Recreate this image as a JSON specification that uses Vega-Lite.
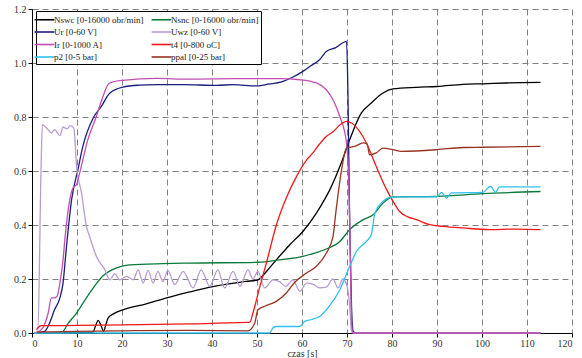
{
  "$schema": "https://vega.github.io/schema/vega-lite/v6.json",
  "autosize": {"type": "none"},
  "width": 540,
  "height": 324,
  "padding": {"left": 32, "top": 9, "right": 10, "bottom": 25},
  "background": "white",
  "config": {
    "view": {"stroke": null},
    "font": "'Liberation Serif', serif",
    "axis": {"labelFont": "'Liberation Serif', serif", "titleFont": "'Liberation Serif', serif", "labelFontSize": 10, "titleFontSize": 10, "titleFontWeight": "normal", "labelColor": "#333333", "titleColor": "#333333", "domainColor": "#000000", "tickColor": "#000000", "tickSize": 4, "gridColor": "#808080", "gridDash": [6, 4], "gridWidth": 1},
    "legend": {"labelFont": "'Liberation Serif', serif", "labelFontSize": 9, "labelColor": "#222222"}
  },
  "data": {"values": [
    {"s":"Nswc [0-16000 obr/min]","x":1,"y":0},{"s":"Nswc [0-16000 obr/min]","x":13.5,"y":0.002},{"s":"Nswc [0-16000 obr/min]","x":14.2,"y":0.03},{"s":"Nswc [0-16000 obr/min]","x":14.7,"y":0.047},{"s":"Nswc [0-16000 obr/min]","x":15.3,"y":0.03},{"s":"Nswc [0-16000 obr/min]","x":15.9,"y":0.006},{"s":"Nswc [0-16000 obr/min]","x":16.4,"y":0.03},{"s":"Nswc [0-16000 obr/min]","x":16.9,"y":0.055},{"s":"Nswc [0-16000 obr/min]","x":18,"y":0.07},{"s":"Nswc [0-16000 obr/min]","x":20.2,"y":0.086},{"s":"Nswc [0-16000 obr/min]","x":25.4,"y":0.108},{"s":"Nswc [0-16000 obr/min]","x":30.6,"y":0.133},{"s":"Nswc [0-16000 obr/min]","x":35,"y":0.152},{"s":"Nswc [0-16000 obr/min]","x":40.2,"y":0.172},{"s":"Nswc [0-16000 obr/min]","x":45,"y":0.185},{"s":"Nswc [0-16000 obr/min]","x":47.6,"y":0.191},{"s":"Nswc [0-16000 obr/min]","x":50.2,"y":0.197},{"s":"Nswc [0-16000 obr/min]","x":52.1,"y":0.228},{"s":"Nswc [0-16000 obr/min]","x":54.3,"y":0.271},{"s":"Nswc [0-16000 obr/min]","x":57.3,"y":0.327},{"s":"Nswc [0-16000 obr/min]","x":60.2,"y":0.376},{"s":"Nswc [0-16000 obr/min]","x":63.2,"y":0.444},{"s":"Nswc [0-16000 obr/min]","x":65,"y":0.494},{"s":"Nswc [0-16000 obr/min]","x":66.2,"y":0.531},{"s":"Nswc [0-16000 obr/min]","x":68.5,"y":0.62},{"s":"Nswc [0-16000 obr/min]","x":70.6,"y":0.716},{"s":"Nswc [0-16000 obr/min]","x":73.2,"y":0.815},{"s":"Nswc [0-16000 obr/min]","x":75.4,"y":0.852},{"s":"Nswc [0-16000 obr/min]","x":78,"y":0.889},{"s":"Nswc [0-16000 obr/min]","x":80.2,"y":0.904},{"s":"Nswc [0-16000 obr/min]","x":85.4,"y":0.91},{"s":"Nswc [0-16000 obr/min]","x":90,"y":0.913},{"s":"Nswc [0-16000 obr/min]","x":95.8,"y":0.921},{"s":"Nswc [0-16000 obr/min]","x":100.2,"y":0.923},{"s":"Nswc [0-16000 obr/min]","x":105.4,"y":0.926},{"s":"Nswc [0-16000 obr/min]","x":113,"y":0.928},
    {"s":"Nsnc [0-16000 obr/min]","x":1,"y":0},{"s":"Nsnc [0-16000 obr/min]","x":6.5,"y":0},{"s":"Nsnc [0-16000 obr/min]","x":8,"y":0.035},{"s":"Nsnc [0-16000 obr/min]","x":9.9,"y":0.074},{"s":"Nsnc [0-16000 obr/min]","x":12.8,"y":0.148},{"s":"Nsnc [0-16000 obr/min]","x":15.8,"y":0.212},{"s":"Nsnc [0-16000 obr/min]","x":18.8,"y":0.241},{"s":"Nsnc [0-16000 obr/min]","x":21.7,"y":0.252},{"s":"Nsnc [0-16000 obr/min]","x":29.1,"y":0.257},{"s":"Nsnc [0-16000 obr/min]","x":35,"y":0.259},{"s":"Nsnc [0-16000 obr/min]","x":50.2,"y":0.262},{"s":"Nsnc [0-16000 obr/min]","x":55,"y":0.271},{"s":"Nsnc [0-16000 obr/min]","x":60.2,"y":0.284},{"s":"Nsnc [0-16000 obr/min]","x":63,"y":0.297},{"s":"Nsnc [0-16000 obr/min]","x":65.4,"y":0.311},{"s":"Nsnc [0-16000 obr/min]","x":68.4,"y":0.339},{"s":"Nsnc [0-16000 obr/min]","x":70.6,"y":0.383},{"s":"Nsnc [0-16000 obr/min]","x":73.6,"y":0.42},{"s":"Nsnc [0-16000 obr/min]","x":75.8,"y":0.438},{"s":"Nsnc [0-16000 obr/min]","x":78,"y":0.481},{"s":"Nsnc [0-16000 obr/min]","x":80.2,"y":0.504},{"s":"Nsnc [0-16000 obr/min]","x":90,"y":0.506},{"s":"Nsnc [0-16000 obr/min]","x":100.2,"y":0.516},{"s":"Nsnc [0-16000 obr/min]","x":113,"y":0.524},
    {"s":"Ur [0-60 V]","x":0.5,"y":0},{"s":"Ur [0-60 V]","x":2.8,"y":0.006},{"s":"Ur [0-60 V]","x":3.9,"y":0.037},{"s":"Ur [0-60 V]","x":5,"y":0.086},{"s":"Ur [0-60 V]","x":6.2,"y":0.13},{"s":"Ur [0-60 V]","x":6.9,"y":0.185},{"s":"Ur [0-60 V]","x":7.6,"y":0.309},{"s":"Ur [0-60 V]","x":8.8,"y":0.494},{"s":"Ur [0-60 V]","x":10.2,"y":0.605},{"s":"Ur [0-60 V]","x":11.3,"y":0.691},{"s":"Ur [0-60 V]","x":13.6,"y":0.796},{"s":"Ur [0-60 V]","x":15.4,"y":0.839},{"s":"Ur [0-60 V]","x":17.3,"y":0.889},{"s":"Ur [0-60 V]","x":20.2,"y":0.911},{"s":"Ur [0-60 V]","x":23.9,"y":0.918},{"s":"Ur [0-60 V]","x":27.6,"y":0.92},{"s":"Ur [0-60 V]","x":33.6,"y":0.92},{"s":"Ur [0-60 V]","x":41,"y":0.917},{"s":"Ur [0-60 V]","x":44.7,"y":0.92},{"s":"Ur [0-60 V]","x":49.9,"y":0.915},{"s":"Ur [0-60 V]","x":52,"y":0.92},{"s":"Ur [0-60 V]","x":55.8,"y":0.932},{"s":"Ur [0-60 V]","x":58,"y":0.948},{"s":"Ur [0-60 V]","x":60.2,"y":0.969},{"s":"Ur [0-60 V]","x":62,"y":0.99},{"s":"Ur [0-60 V]","x":63.9,"y":1.012},{"s":"Ur [0-60 V]","x":65.4,"y":1.043},{"s":"Ur [0-60 V]","x":67.5,"y":1.057},{"s":"Ur [0-60 V]","x":69.9,"y":1.08},{"s":"Ur [0-60 V]","x":70.2,"y":0.9},{"s":"Ur [0-60 V]","x":70.6,"y":0.4},{"s":"Ur [0-60 V]","x":71,"y":0.1},{"s":"Ur [0-60 V]","x":71.4,"y":0.005},{"s":"Ur [0-60 V]","x":72,"y":0},{"s":"Ur [0-60 V]","x":113,"y":0},
    {"s":"Uwz [0-60 V]","x":0.5,"y":0},{"s":"Uwz [0-60 V]","x":1.3,"y":0},{"s":"Uwz [0-60 V]","x":2,"y":0.6},{"s":"Uwz [0-60 V]","x":2.3,"y":0.771},{"s":"Uwz [0-60 V]","x":3.6,"y":0.753},{"s":"Uwz [0-60 V]","x":4.3,"y":0.741},{"s":"Uwz [0-60 V]","x":5,"y":0.753},{"s":"Uwz [0-60 V]","x":6.2,"y":0.731},{"s":"Uwz [0-60 V]","x":6.9,"y":0.763},{"s":"Uwz [0-60 V]","x":7.8,"y":0.756},{"s":"Uwz [0-60 V]","x":8.5,"y":0.768},{"s":"Uwz [0-60 V]","x":9.3,"y":0.759},{"s":"Uwz [0-60 V]","x":9.9,"y":0.617},{"s":"Uwz [0-60 V]","x":11,"y":0.519},{"s":"Uwz [0-60 V]","x":12.1,"y":0.395},{"s":"Uwz [0-60 V]","x":12.8,"y":0.358},{"s":"Uwz [0-60 V]","x":14.3,"y":0.284},{"s":"Uwz [0-60 V]","x":16.2,"y":0.234},{"s":"Uwz [0-60 V]","x":17.3,"y":0.197},{"s":"Uwz [0-60 V]","x":18.4,"y":0.22},{"s":"Uwz [0-60 V]","x":19.5,"y":0.197},{"s":"Uwz [0-60 V]","x":21,"y":0.21},{"s":"Uwz [0-60 V]","x":22.5,"y":0.197},{"s":"Uwz [0-60 V]","x":23.6,"y":0.234},{"s":"Uwz [0-60 V]","x":24.7,"y":0.185},{"s":"Uwz [0-60 V]","x":25.8,"y":0.232},{"s":"Uwz [0-60 V]","x":26.9,"y":0.185},{"s":"Uwz [0-60 V]","x":28,"y":0.228},{"s":"Uwz [0-60 V]","x":29.1,"y":0.19},{"s":"Uwz [0-60 V]","x":30.2,"y":0.232},{"s":"Uwz [0-60 V]","x":31.7,"y":0.179},{"s":"Uwz [0-60 V]","x":33.6,"y":0.228},{"s":"Uwz [0-60 V]","x":35.8,"y":0.167},{"s":"Uwz [0-60 V]","x":37.6,"y":0.234},{"s":"Uwz [0-60 V]","x":39.5,"y":0.173},{"s":"Uwz [0-60 V]","x":41.3,"y":0.234},{"s":"Uwz [0-60 V]","x":42.8,"y":0.167},{"s":"Uwz [0-60 V]","x":44.7,"y":0.228},{"s":"Uwz [0-60 V]","x":46.2,"y":0.173},{"s":"Uwz [0-60 V]","x":48,"y":0.234},{"s":"Uwz [0-60 V]","x":49.1,"y":0.2},{"s":"Uwz [0-60 V]","x":50.2,"y":0.228},{"s":"Uwz [0-60 V]","x":51.7,"y":0.167},{"s":"Uwz [0-60 V]","x":53.6,"y":0.197},{"s":"Uwz [0-60 V]","x":55,"y":0.19},{"s":"Uwz [0-60 V]","x":56.4,"y":0.173},{"s":"Uwz [0-60 V]","x":58,"y":0.197},{"s":"Uwz [0-60 V]","x":59.5,"y":0.154},{"s":"Uwz [0-60 V]","x":61,"y":0.185},{"s":"Uwz [0-60 V]","x":62.5,"y":0.18},{"s":"Uwz [0-60 V]","x":63.9,"y":0.167},{"s":"Uwz [0-60 V]","x":65.4,"y":0.17},{"s":"Uwz [0-60 V]","x":66.9,"y":0.2},{"s":"Uwz [0-60 V]","x":68,"y":0.167},{"s":"Uwz [0-60 V]","x":69.1,"y":0.2},{"s":"Uwz [0-60 V]","x":69.9,"y":0.18},{"s":"Uwz [0-60 V]","x":70.6,"y":0.1},{"s":"Uwz [0-60 V]","x":71,"y":0.006},{"s":"Uwz [0-60 V]","x":71.5,"y":0},{"s":"Uwz [0-60 V]","x":113,"y":0},
    {"s":"Ir [0-1000 A]","x":0.5,"y":0},{"s":"Ir [0-1000 A]","x":1.2,"y":0.003},{"s":"Ir [0-1000 A]","x":2.4,"y":0.019},{"s":"Ir [0-1000 A]","x":3.6,"y":0.074},{"s":"Ir [0-1000 A]","x":4.3,"y":0.13},{"s":"Ir [0-1000 A]","x":5,"y":0.13},{"s":"Ir [0-1000 A]","x":5.6,"y":0.137},{"s":"Ir [0-1000 A]","x":6.2,"y":0.185},{"s":"Ir [0-1000 A]","x":6.9,"y":0.271},{"s":"Ir [0-1000 A]","x":7.3,"y":0.346},{"s":"Ir [0-1000 A]","x":8.4,"y":0.494},{"s":"Ir [0-1000 A]","x":9.1,"y":0.537},{"s":"Ir [0-1000 A]","x":9.9,"y":0.55},{"s":"Ir [0-1000 A]","x":10.6,"y":0.593},{"s":"Ir [0-1000 A]","x":12.4,"y":0.716},{"s":"Ir [0-1000 A]","x":14.3,"y":0.802},{"s":"Ir [0-1000 A]","x":15.4,"y":0.858},{"s":"Ir [0-1000 A]","x":16.9,"y":0.92},{"s":"Ir [0-1000 A]","x":17.6,"y":0.928},{"s":"Ir [0-1000 A]","x":20.2,"y":0.936},{"s":"Ir [0-1000 A]","x":27.6,"y":0.943},{"s":"Ir [0-1000 A]","x":35,"y":0.94},{"s":"Ir [0-1000 A]","x":45,"y":0.942},{"s":"Ir [0-1000 A]","x":55,"y":0.942},{"s":"Ir [0-1000 A]","x":59.5,"y":0.938},{"s":"Ir [0-1000 A]","x":63.2,"y":0.926},{"s":"Ir [0-1000 A]","x":65.4,"y":0.901},{"s":"Ir [0-1000 A]","x":66.9,"y":0.864},{"s":"Ir [0-1000 A]","x":68.4,"y":0.802},{"s":"Ir [0-1000 A]","x":69.9,"y":0.704},{"s":"Ir [0-1000 A]","x":70.6,"y":0.42},{"s":"Ir [0-1000 A]","x":71,"y":0.05},{"s":"Ir [0-1000 A]","x":71.3,"y":0},{"s":"Ir [0-1000 A]","x":113,"y":0},
    {"s":"t4 [0-800 oC]","x":1,"y":0.012},{"s":"t4 [0-800 oC]","x":1.3,"y":0.019},{"s":"t4 [0-800 oC]","x":2.1,"y":0.027},{"s":"t4 [0-800 oC]","x":10,"y":0.028},{"s":"t4 [0-800 oC]","x":20,"y":0.03},{"s":"t4 [0-800 oC]","x":35,"y":0.034},{"s":"t4 [0-800 oC]","x":47.6,"y":0.039},{"s":"t4 [0-800 oC]","x":48.4,"y":0.04},{"s":"t4 [0-800 oC]","x":49.1,"y":0.074},{"s":"t4 [0-800 oC]","x":50.6,"y":0.17},{"s":"t4 [0-800 oC]","x":52.1,"y":0.26},{"s":"t4 [0-800 oC]","x":54.3,"y":0.4},{"s":"t4 [0-800 oC]","x":56.5,"y":0.5},{"s":"t4 [0-800 oC]","x":58.8,"y":0.58},{"s":"t4 [0-800 oC]","x":61,"y":0.64},{"s":"t4 [0-800 oC]","x":62.4,"y":0.667},{"s":"t4 [0-800 oC]","x":63.9,"y":0.7},{"s":"t4 [0-800 oC]","x":65.4,"y":0.728},{"s":"t4 [0-800 oC]","x":66.9,"y":0.745},{"s":"t4 [0-800 oC]","x":68.4,"y":0.77},{"s":"t4 [0-800 oC]","x":69.9,"y":0.784},{"s":"t4 [0-800 oC]","x":71,"y":0.778},{"s":"t4 [0-800 oC]","x":72.8,"y":0.747},{"s":"t4 [0-800 oC]","x":74.3,"y":0.704},{"s":"t4 [0-800 oC]","x":76.5,"y":0.617},{"s":"t4 [0-800 oC]","x":78.8,"y":0.531},{"s":"t4 [0-800 oC]","x":80.5,"y":0.48},{"s":"t4 [0-800 oC]","x":81.7,"y":0.45},{"s":"t4 [0-800 oC]","x":83.5,"y":0.43},{"s":"t4 [0-800 oC]","x":85.4,"y":0.42},{"s":"t4 [0-800 oC]","x":88.4,"y":0.401},{"s":"t4 [0-800 oC]","x":91.3,"y":0.395},{"s":"t4 [0-800 oC]","x":95.8,"y":0.389},{"s":"t4 [0-800 oC]","x":101.7,"y":0.383},{"s":"t4 [0-800 oC]","x":107.6,"y":0.385},{"s":"t4 [0-800 oC]","x":113,"y":0.383},
    {"s":"p2 [0-5 bar]","x":0.5,"y":0},{"s":"p2 [0-5 bar]","x":52.8,"y":0},{"s":"p2 [0-5 bar]","x":53.6,"y":0.02},{"s":"p2 [0-5 bar]","x":54.3,"y":0.024},{"s":"p2 [0-5 bar]","x":59.5,"y":0.024},{"s":"p2 [0-5 bar]","x":60.6,"y":0.043},{"s":"p2 [0-5 bar]","x":62.2,"y":0.05},{"s":"p2 [0-5 bar]","x":63.9,"y":0.061},{"s":"p2 [0-5 bar]","x":66.2,"y":0.102},{"s":"p2 [0-5 bar]","x":68.4,"y":0.16},{"s":"p2 [0-5 bar]","x":70.6,"y":0.247},{"s":"p2 [0-5 bar]","x":72.1,"y":0.302},{"s":"p2 [0-5 bar]","x":74.3,"y":0.339},{"s":"p2 [0-5 bar]","x":75.4,"y":0.364},{"s":"p2 [0-5 bar]","x":76.2,"y":0.444},{"s":"p2 [0-5 bar]","x":78,"y":0.487},{"s":"p2 [0-5 bar]","x":79.1,"y":0.5},{"s":"p2 [0-5 bar]","x":81,"y":0.504},{"s":"p2 [0-5 bar]","x":90,"y":0.504},{"s":"p2 [0-5 bar]","x":91,"y":0.521},{"s":"p2 [0-5 bar]","x":92.1,"y":0.5},{"s":"p2 [0-5 bar]","x":93.2,"y":0.519},{"s":"p2 [0-5 bar]","x":100.2,"y":0.521},{"s":"p2 [0-5 bar]","x":101.9,"y":0.543},{"s":"p2 [0-5 bar]","x":103,"y":0.521},{"s":"p2 [0-5 bar]","x":103.9,"y":0.541},{"s":"p2 [0-5 bar]","x":113,"y":0.541},
    {"s":"ppal [0-25 bar]","x":1,"y":0.003},{"s":"ppal [0-25 bar]","x":10,"y":0.006},{"s":"ppal [0-25 bar]","x":20,"y":0.008},{"s":"ppal [0-25 bar]","x":35,"y":0.01},{"s":"ppal [0-25 bar]","x":48,"y":0.008},{"s":"ppal [0-25 bar]","x":49.5,"y":0.037},{"s":"ppal [0-25 bar]","x":50.2,"y":0.086},{"s":"ppal [0-25 bar]","x":51.7,"y":0.099},{"s":"ppal [0-25 bar]","x":54.3,"y":0.117},{"s":"ppal [0-25 bar]","x":56.5,"y":0.148},{"s":"ppal [0-25 bar]","x":58.4,"y":0.188},{"s":"ppal [0-25 bar]","x":61,"y":0.222},{"s":"ppal [0-25 bar]","x":63.2,"y":0.247},{"s":"ppal [0-25 bar]","x":65.4,"y":0.296},{"s":"ppal [0-25 bar]","x":66.9,"y":0.358},{"s":"ppal [0-25 bar]","x":67.5,"y":0.444},{"s":"ppal [0-25 bar]","x":68.8,"y":0.605},{"s":"ppal [0-25 bar]","x":69.9,"y":0.685},{"s":"ppal [0-25 bar]","x":71.7,"y":0.691},{"s":"ppal [0-25 bar]","x":73.6,"y":0.704},{"s":"ppal [0-25 bar]","x":74.5,"y":0.7},{"s":"ppal [0-25 bar]","x":75,"y":0.66},{"s":"ppal [0-25 bar]","x":76.5,"y":0.667},{"s":"ppal [0-25 bar]","x":78,"y":0.685},{"s":"ppal [0-25 bar]","x":80.2,"y":0.679},{"s":"ppal [0-25 bar]","x":82.1,"y":0.673},{"s":"ppal [0-25 bar]","x":90,"y":0.679},{"s":"ppal [0-25 bar]","x":95.8,"y":0.687},{"s":"ppal [0-25 bar]","x":100.2,"y":0.688},{"s":"ppal [0-25 bar]","x":113,"y":0.691}
  ]},
  "mark": {"type": "line", "strokeWidth": 1.3, "interpolate": "monotone"},
  "encoding": {
    "x": {"field": "x", "type": "quantitative", "scale": {"domain": [0, 120], "nice": false}, "axis": {"values": [0,10,20,30,40,50,60,70,80,90,100,110,120], "title": "czas [s]", "labelPadding": 1, "titlePadding": 0, "grid": true}},
    "y": {"field": "y", "type": "quantitative", "scale": {"domain": [0, 1.2], "nice": false}, "axis": {"values": [0,0.2,0.4,0.6,0.8,1.0,1.2], "format": ".1f", "title": null, "labelPadding": 2, "grid": true}},
    "color": {"field": "s", "type": "nominal", "sort": null,
      "scale": {"domain": ["Nswc [0-16000 obr/min]","Nsnc [0-16000 obr/min]","Ur [0-60 V]","Uwz [0-60 V]","Ir [0-1000 A]","t4 [0-800 oC]","p2 [0-5 bar]","ppal [0-25 bar]"],
                "range": ["#000000","#0a7a3a","#1c1c7c","#b89cd0","#c24fb0","#f01818","#30c0f0","#993322"]},
      "legend": {"title": null, "orient": "none", "legendX": 4, "legendY": 2, "columns": 2, "direction": "horizontal", "symbolType": "M-1.8,0H1.8", "symbolSize": 121, "symbolStrokeWidth": 1.6, "columnPadding": 4, "rowPadding": 0.5, "labelOffset": 3, "padding": 2, "fillColor": "white", "strokeColor": "#000000", "labelLimit": 200}
    }
  }
}
